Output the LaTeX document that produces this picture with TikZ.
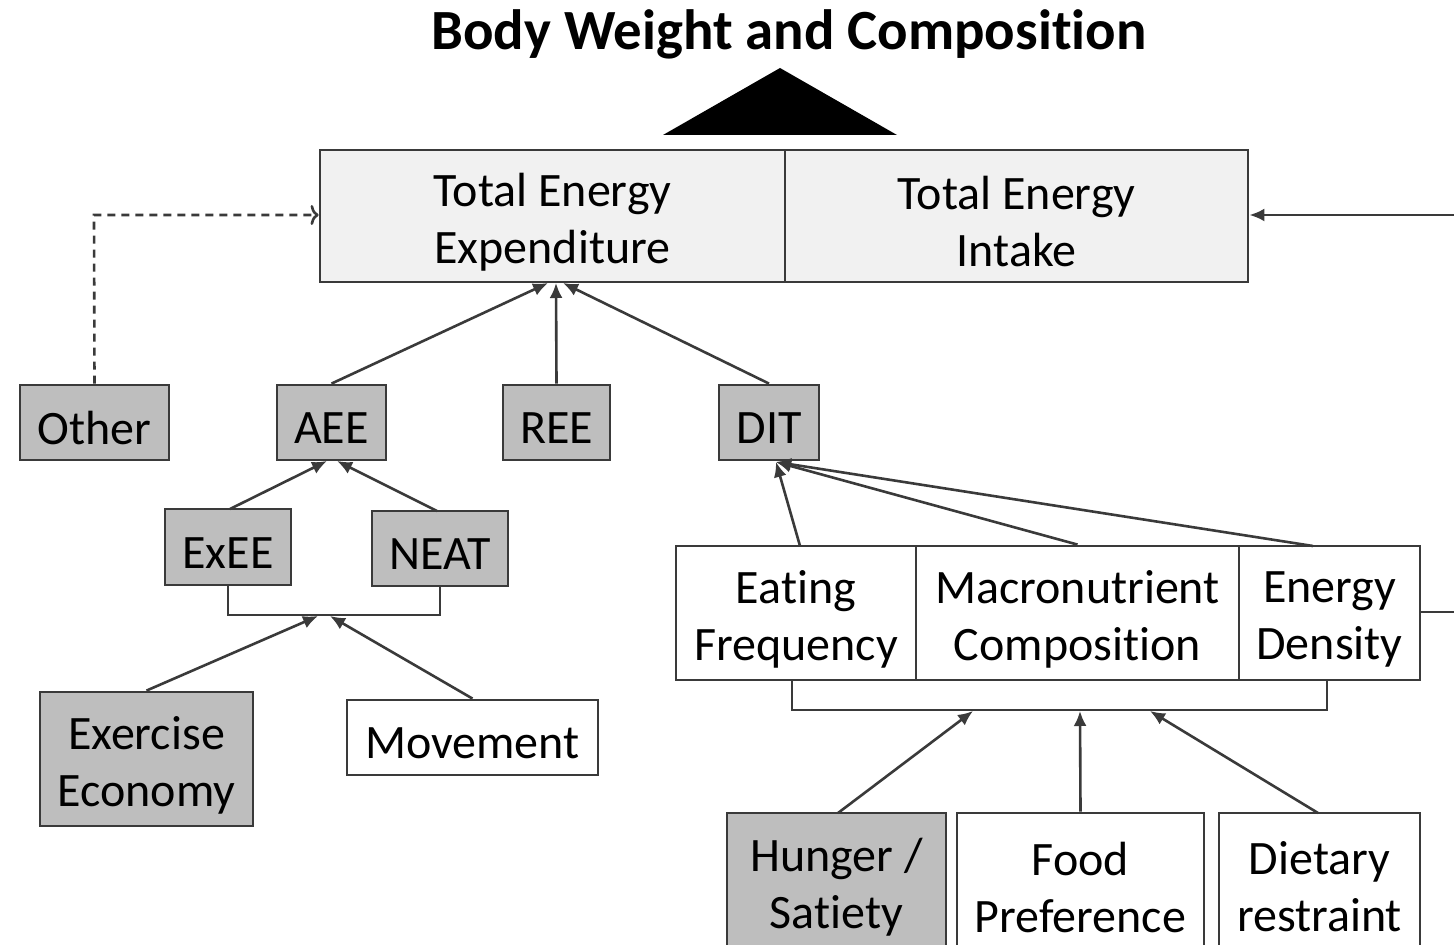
\documentclass[tikz,border=0pt]{standalone}
\usepackage{fontspec}
\setmainfont{Carlito}[Ligatures=NoCommon]
\usetikzlibrary{arrows.meta}
\newcommand\boxfont{\fontsize{24}{28.5}\selectfont}
% \rbox{name}{x1}{y1}{x2}{y2}{style}{text}: a box given by its corners, text set slightly low
\newcommand\rbox[7]{%
  \node[#6, minimum width={(#4-#2)*0.5pt}, minimum height={(#5-#3)*0.5pt}] (#1) at ({(#2+#4)/2},{(#3+#5)/2}) {};
  \node[boxtext] (#1-text) at ([yshift=-3pt]#1.center) {#7};}
\definecolor{boxgray}{HTML}{BEBEBE}
\definecolor{boxlight}{HTML}{F1F1F1}
\definecolor{edge}{HTML}{3A3A3A}
\begin{document}
\begin{tikzpicture}[x=0.5pt,y=-0.5pt,
  box/.style={draw=edge, line width=1.4pt, inner sep=0pt},
  boxtext/.style={inner sep=0pt, align=center, font=\boxfont},
  graybox/.style={box, fill=boxgray},
  whitebox/.style={box, fill=white},
  lightbox/.style={box, fill=boxlight},
  link/.style={draw=edge, line width=1.3pt, -{Latex[length=7.5pt,width=6.5pt]}},
  bracket/.style={draw=edge, line width=1.3pt},
  hint/.style={draw=edge, line width=1.3pt, dashed, dash pattern=on 4pt off 3pt, -{To[length=4pt,width=10pt,line width=1.3pt]}}
]
\useasboundingbox (0,0) rectangle (1454,945);

% title and the balance triangle
\node[font=\fontsize{28.4}{34}\selectfont\bfseries, anchor=base] (title) at (789,50) {Body Weight and Composition};
\fill[black] (663,135) -- (780,68) -- (897,135) -- cycle;

% energy balance
\rbox{tee}{320}{150}{785}{282}{lightbox}{Total Energy\\Expenditure}
\rbox{tei}{785}{150}{1248}{282}{lightbox}{Total Energy\\Intake}

% expenditure components
\rbox{other}{20}{385}{169}{460}{graybox}{Other}
\rbox{aee}{277}{385}{386}{460}{graybox}{AEE}
\rbox{ree}{503}{385}{610}{460}{graybox}{REE}
\rbox{dit}{719}{385}{819}{460}{graybox}{DIT}
\rbox{exee}{165}{509}{291}{585}{graybox}{ExEE}
\rbox{neat}{372}{511}{508}{586}{graybox}{NEAT}
\rbox{econ}{40}{692}{253}{826}{graybox}{Exercise\\Economy}
\rbox{move}{347}{700}{598}{775}{whitebox}{Movement}

% intake components
\rbox{eat}{676}{546}{916}{680}{whitebox}{Eating\\Frequency}
\rbox{macro}{916}{546}{1239}{680}{whitebox}{Macronutrient\\Composition}
\rbox{dens}{1239}{546}{1420}{680}{whitebox}{Energy\\Density}
\rbox{hunger}{727}{813}{946}{949}{graybox}{Hunger /\\Satiety}
\rbox{pref}{957}{813}{1204}{949}{whitebox}{Food\\Preference}
\rbox{restr}{1219}{813}{1420}{949}{whitebox}{Dietary\\restraint}

% connection points
\coordinate (teeA) at (548,283);
\coordinate (teeR) at (556,283);
\coordinate (teeD) at (563,283);
\coordinate (aeeL) at (327,461);
\coordinate (aeeR) at (337,461);
\coordinate (ditIn) at (776,462);
\coordinate (barA) at (228,615);
\coordinate (barB) at (440,615);
\coordinate (barAL) at (318,616);
\coordinate (barAR) at (330,616);
\coordinate (barC) at (792,710);
\coordinate (barD) at (1327,710);
\coordinate (barCL) at (973,711);
\coordinate (barCM) at (1080,711);
\coordinate (barCR) at (1150,711);
\coordinate (otherCorner) at (94,215);
\coordinate (rightIn) at (1454,215);
\coordinate (rightOut) at (1454,612);
\coordinate (exeeTop) at (230,509);
\coordinate (neatTop) at (437,511);
\coordinate (eatTop) at (800,546);
\coordinate (densTop) at (1313,546);
\coordinate (hungerTop) at (838,813);
\coordinate (restrTop) at (1318,813);

% brackets
\draw[bracket] (exee.south -| barA) -- (barA) -- (barB) -- (neat.south -| barB);
\draw[bracket] (eat.south -| barC) -- (barC) -- (barD) -- (dens.south -| barD);

% arrows
\draw[hint] (other.north) -- (otherCorner) -- (tee.west |- otherCorner);
\draw[link] (aee.north) -- (teeA);
\draw[link] (ree.north) -- (teeR);
\draw[link] (dit.north) -- (teeD);
\draw[link] (exeeTop) -- (aeeL);
\draw[link] (neatTop) -- (aeeR);
\draw[link] (econ.north) -- (barAL);
\draw[link] (move.north) -- (barAR);
\draw[link] (eatTop) -- (ditIn);
\draw[link] (macro.north) -- (ditIn);
\draw[link] (densTop) -- (ditIn);
\draw[link] (hungerTop) -- (barCL);
\draw[link] (pref.north) -- (barCM);
\draw[link] (restrTop) -- (barCR);
\draw[link] (rightIn) -- (tei.east |- rightIn);
\draw[bracket] (dens.east |- rightOut) -- (rightOut);
\end{tikzpicture}
\end{document}
